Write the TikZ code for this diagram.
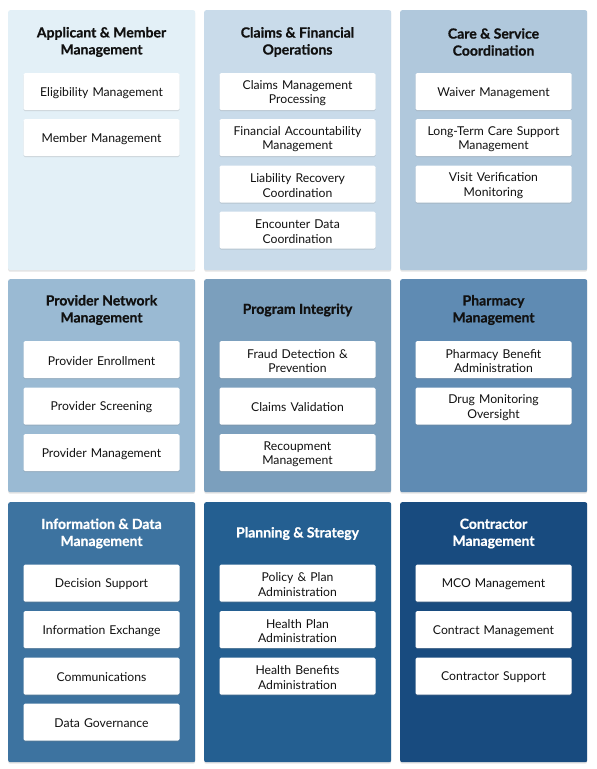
\documentclass[tikz,border=0pt]{standalone}
\usepackage{fontspec}
\setmainfont{Lato}[BoldFeatures={FakeBold=0.8}]
\usetikzlibrary{shadows}
\definecolor{pa}{HTML}{E3F0F7}
\definecolor{pb}{HTML}{C9DBEA}
\definecolor{pc}{HTML}{B0C8DC}
\definecolor{pd}{HTML}{9ABAD3}
\definecolor{pe}{HTML}{7B9FBD}
\definecolor{pf}{HTML}{5F8BB3}
\definecolor{pg}{HTML}{3D73A0}
\definecolor{ph}{HTML}{245F91}
\definecolor{pi}{HTML}{184B7F}
\definecolor{ink}{HTML}{111111}
\tikzset{
	panel/.style 2 args={fill=#1,rounded corners=2pt,minimum width=187pt,minimum height=#2,anchor=north west,inner sep=0pt,
		drop shadow={shadow xshift=0pt,shadow yshift=-1.5pt,opacity=0.22}},
	title/.style={text=#1,align=center,font=\bfseries\fontsize{14}{17}\selectfont},
	item/.style={fill=white,rounded corners=1.5pt,minimum width=156pt,minimum height=37pt,inner sep=0pt,text width=154pt,
		align=center,text=ink,font=\fontsize{12.2}{14.5}\selectfont,execute at begin node={\rule{0pt}{11.8pt}},
		drop shadow={shadow xshift=0pt,shadow yshift=-1.2pt,opacity=0.25}}
}
\begin{document}
\begin{tikzpicture}[x=1pt,y=-1pt]
	\useasboundingbox (0,0) rectangle (597,769);

	% top row
	\node [panel={pa}{260pt}] (applicant) at (8,10) {};
	\node [panel={pb}{260pt}] (claims) at (204,10) {};
	\node [panel={pc}{260pt}] (care) at (400,10) {};
	\node [title=ink] (applicantT) at (101.5,42) {Applicant \& Member\\Management};
	\node [title=ink] (claimsT) at (297.5,42) {Claims \& Financial\\Operations};
	\node [title=ink] (careT) at (493.5,42) {Care \& Service\\Coordination};

	\node [item] (eligibility) at (101.5,91.5) {Eligibility Management};
	\node [item] (member) at (101.5,137.5) {Member Management};

	\node [item] (claimsproc) at (297.5,91.5) {Claims Management\\Processing};
	\node [item] (financial) at (297.5,137.5) {Financial Accountability\\Management};
	\node [item] (liability) at (297.5,184) {Liability Recovery\\Coordination};
	\node [item] (encounter) at (297.5,230) {Encounter Data\\Coordination};

	\node [item] (waiver) at (493.5,91.5) {Waiver Management};
	\node [item] (longterm) at (493.5,137.5) {Long-Term Care Support\\Management};
	\node [item] (visit) at (493.5,184) {Visit Verification\\Monitoring};

	% middle row
	\node [panel={pd}{213pt}] (provider) at (8,279) {};
	\node [panel={pe}{213pt}] (integrity) at (204,279) {};
	\node [panel={pf}{213pt}] (pharmacy) at (400,279) {};
	\node [title=ink] (providerT) at (101.5,310) {Provider Network\\Management};
	\node [title=ink] (integrityT) at (297.5,310) {Program Integrity};
	\node [title=ink] (pharmacyT) at (493.5,310) {Pharmacy\\Management};

	\node [item] (enrollment) at (101.5,359.5) {Provider Enrollment};
	\node [item] (screening) at (101.5,406) {Provider Screening};
	\node [item] (provmgmt) at (101.5,452.5) {Provider Management};

	\node [item] (fraud) at (297.5,359.5) {Fraud Detection \&\\Prevention};
	\node [item] (validation) at (297.5,406) {Claims Validation};
	\node [item] (recoupment) at (297.5,452.5) {Recoupment\\Management};

	\node [item] (benefit) at (493.5,359.5) {Pharmacy Benefit\\Administration};
	\node [item] (drug) at (493.5,406) {Drug Monitoring\\Oversight};

	% bottom row
	\node [panel={pg}{260pt}] (information) at (8,502) {};
	\node [panel={ph}{260pt}] (planning) at (204,502) {};
	\node [panel={pi}{260pt}] (contractor) at (400,502) {};
	\node [title=white] (informationT) at (101.5,533.5) {Information \& Data\\Management};
	\node [title=white] (planningT) at (297.5,533.5) {Planning \& Strategy};
	\node [title=white] (contractorT) at (493.5,533.5) {Contractor\\Management};

	\node [item] (decision) at (101.5,583) {Decision Support};
	\node [item] (exchange) at (101.5,629.5) {Information Exchange};
	\node [item] (communications) at (101.5,676) {Communications};
	\node [item] (governance) at (101.5,722) {Data Governance};

	\node [item] (policy) at (297.5,583) {Policy \& Plan\\Administration};
	\node [item] (healthplan) at (297.5,629.5) {Health Plan\\Administration};
	\node [item] (healthben) at (297.5,676) {Health Benefits\\Administration};

	\node [item] (mco) at (493.5,583) {MCO Management};
	\node [item] (contract) at (493.5,629.5) {Contract Management};
	\node [item] (support) at (493.5,676) {Contractor Support};
\end{tikzpicture}
\end{document}
